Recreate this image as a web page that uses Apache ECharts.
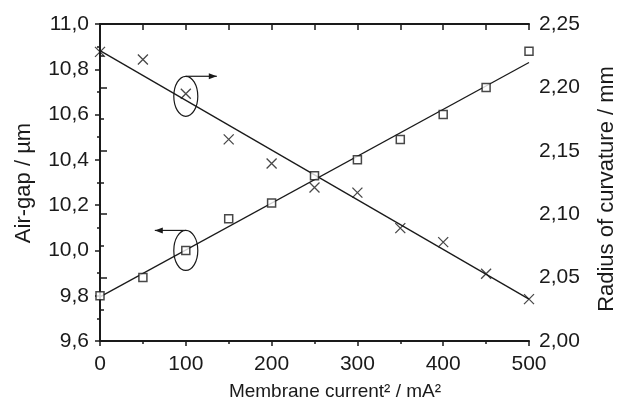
<!DOCTYPE html>
<html>
<head>
<meta charset="utf-8">
<script src="https://cdn.jsdelivr.net/npm/echarts@6/dist/echarts.min.js"></script>
<style>
  html, body { margin: 0; padding: 0; background: #fff; }
  #chart { width: 643px; height: 408px; }
</style>
</head>
<body>
<div id="chart"></div>
<script>
// membrane current squared (mA^2)
const currentSq = [0, 50, 100, 150, 200, 250, 300, 350, 400, 450, 500];
// air-gap (um), left axis, squares
const airGap = [9.80, 9.88, 10.00, 10.14, 10.21, 10.33, 10.40, 10.49, 10.60, 10.72, 10.88];
// radius of curvature (mm), right axis, crosses
const radius = [2.228, 2.222, 2.195, 2.159, 2.140, 2.121, 2.117, 2.089, 2.078, 2.053, 2.033];
// linear fits, end points
const fitX = [0, 500];
const airGapFit = [9.795, 10.83];
const radiusFit = [2.229, 2.033];
// ellipse + arrow callouts: [x, y, axis index, arrow direction]
const callouts = [
  [100, 2.193, 1, "right"],
  [100, 10.0, 0, "left"],
];

const ink = "#1a1a1a";
const font = "Liberation Sans, Arial, sans-serif";
const comma = (d) => (v) => v.toFixed(d).replace(".", ",");

const chartDom = document.getElementById("chart");
const myChart = echarts.init(chartDom);

const option = {
  animation: false,
  grid: { left: 100, right: 114, top: 24, bottom: 67 },
  xAxis: [
    {
      type: "value",
      min: 0,
      max: 500,
      interval: 100,
      position: "bottom",
      axisLine: { lineStyle: { color: ink, width: 2 } },
      axisTick: { inside: false, length: 5, lineStyle: { color: ink, width: 1.5 } },
      minorTick: { show: true, splitNumber: 2, length: 3, lineStyle: { color: ink, width: 1.5 } },
      splitLine: { show: false },
      axisLabel: { color: ink, fontSize: 21, fontFamily: font, margin: 13 },
    },
    {
      type: "value",
      min: 0,
      max: 500,
      interval: 50,
      position: "top",
      axisLine: { lineStyle: { color: ink, width: 2 } },
      axisTick: { inside: true, length: 6, lineStyle: { color: ink, width: 1.5 } },
      splitLine: { show: false },
      axisLabel: { show: false },
    },
  ],
  yAxis: [
    {
      type: "value",
      min: 9.6,
      max: 11.0,
      interval: 0.2,
      position: "left",
      axisLine: { show: true, lineStyle: { color: ink, width: 2 } },
      axisTick: { show: true, inside: false, length: 5, lineStyle: { color: ink, width: 1.5 } },
      minorTick: { show: true, splitNumber: 2, length: 3, lineStyle: { color: ink, width: 1.5 } },
      splitLine: { show: false },
      axisLabel: { color: ink, fontSize: 21, fontFamily: font, margin: 11, formatter: comma(1) },
    },
    {
      type: "value",
      min: 2.0,
      max: 2.25,
      interval: 0.05,
      position: "right",
      axisLine: { show: true, lineStyle: { color: ink, width: 2 } },
      axisTick: { show: true, inside: false, length: 7, lineStyle: { color: ink, width: 1.5 } },
      minorTick: { show: true, splitNumber: 2, length: 4, lineStyle: { color: ink, width: 1.5 } },
      splitLine: { show: false },
      axisLabel: { color: ink, fontSize: 21, fontFamily: font, margin: 10, formatter: comma(2) },
    },
  ],
  series: [
    {
      type: "line",
      yAxisIndex: 0,
      data: fitX.map((x, i) => [x, airGapFit[i]]),
      showSymbol: false,
      lineStyle: { color: ink, width: 1.3 },
      z: 1,
    },
    {
      type: "line",
      yAxisIndex: 1,
      data: fitX.map((x, i) => [x, radiusFit[i]]),
      showSymbol: false,
      lineStyle: { color: ink, width: 1.3 },
      z: 1,
    },
    {
      type: "scatter",
      yAxisIndex: 0,
      data: currentSq.map((x, i) => [x, airGap[i]]),
      symbol: "rect",
      symbolSize: 8,
      itemStyle: { color: "#fff", borderColor: ink, borderWidth: 1.5 },
      z: 3,
    },
    {
      type: "scatter",
      yAxisIndex: 1,
      data: currentSq.map((x, i) => [x, radius[i]]),
      symbol: "path://M0,0L10,10M0,10L10,0",
      symbolSize: 10,
      itemStyle: { color: "none", borderColor: ink, borderWidth: 1.3 },
      z: 3,
    },
  ],
};

myChart.setOption(option);

// axis titles and callouts
const graphics = [
  {
    type: "text",
    x: 335, y: 392,
    style: { text: "Membrane current² / mA²", font: "19px " + font, fill: ink, textAlign: "center", textVerticalAlign: "middle" },
  },
  {
    type: "text",
    x: 24, y: 183, rotation: Math.PI / 2,
    style: { text: "Air-gap / µm", font: "22px " + font, fill: ink, textAlign: "center", textVerticalAlign: "middle" },
  },
  {
    type: "text",
    x: 607, y: 189, rotation: Math.PI / 2,
    style: { text: "Radius of curvature / mm", font: "22px " + font, fill: ink, textAlign: "center", textVerticalAlign: "middle" },
  },
];

callouts.forEach(([x, y, yIdx, dir]) => {
  const [px, py] = myChart.convertToPixel({ xAxisIndex: 0, yAxisIndex: yIdx }, [x, y]);
  const rx = 12, ry = 20;
  const topY = py - ry;
  const len = 31 * (dir === "right" ? 1 : -1);
  const tipX = px + len;
  const back = dir === "right" ? -8 : 8;
  graphics.push(
    { type: "ellipse", shape: { cx: px, cy: py, rx: rx, ry: ry }, style: { fill: "none", stroke: ink, lineWidth: 1.2 }, z: 10 },
    { type: "line", shape: { x1: px, y1: topY, x2: tipX, y2: topY }, style: { stroke: ink, lineWidth: 1.2 }, z: 10 },
    { type: "polygon", shape: { points: [[tipX, topY], [tipX + back, topY - 3], [tipX + back, topY + 3]] }, style: { fill: ink }, z: 10 }
  );
});

myChart.setOption({ graphic: graphics });
window.addEventListener("resize", () => myChart.resize());
</script>
</body>
</html>
